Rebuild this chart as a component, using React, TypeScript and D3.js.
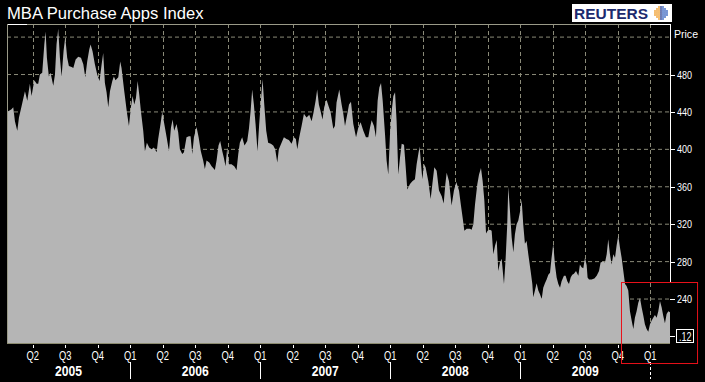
import React from 'react';
import * as d3 from 'd3';

// Decimal-year dates and MBA Purchase Apps Index values
const dates: number[] = [
  2005.052, 2005.087, 2005.100, 2005.113, 2005.131, 2005.144, 2005.164, 2005.190, 2005.208, 2005.228,
  2005.241, 2005.262, 2005.280, 2005.292, 2005.305, 2005.323, 2005.339, 2005.349, 2005.359, 2005.374,
  2005.387, 2005.408, 2005.421, 2005.433, 2005.446, 2005.459, 2005.472, 2005.487, 2005.500, 2005.515,
  2005.528, 2005.549, 2005.562, 2005.580, 2005.600, 2005.621, 2005.639, 2005.654, 2005.669, 2005.685,
  2005.695, 2005.710, 2005.728, 2005.746, 2005.764, 2005.780, 2005.792, 2005.805, 2005.818, 2005.831,
  2005.844, 2005.862, 2005.874, 2005.887, 2005.908, 2005.923, 2005.933, 2005.954, 2005.974, 2005.990,
  2006.005, 2006.018, 2006.031, 2006.044, 2006.057, 2006.069, 2006.082, 2006.100, 2006.113, 2006.128,
  2006.146, 2006.164, 2006.182, 2006.203, 2006.215, 2006.233, 2006.246, 2006.262, 2006.280, 2006.298,
  2006.313, 2006.326, 2006.338, 2006.356, 2006.369, 2006.382, 2006.400, 2006.413, 2006.433, 2006.451,
  2006.464, 2006.477, 2006.490, 2006.510, 2006.526, 2006.543, 2006.561, 2006.574, 2006.587, 2006.608,
  2006.626, 2006.651, 2006.664, 2006.679, 2006.692, 2006.708, 2006.720, 2006.733, 2006.746, 2006.759,
  2006.779, 2006.800, 2006.818, 2006.831, 2006.843, 2006.861, 2006.879, 2006.900, 2006.913, 2006.926,
  2006.938, 2006.951, 2006.964, 2006.979, 2006.992, 2007.005, 2007.018, 2007.031, 2007.046, 2007.061,
  2007.082, 2007.100, 2007.115, 2007.131, 2007.143, 2007.164, 2007.182, 2007.202, 2007.220, 2007.241,
  2007.259, 2007.274, 2007.285, 2007.300, 2007.318, 2007.336, 2007.356, 2007.377, 2007.395, 2007.408,
  2007.426, 2007.438, 2007.451, 2007.464, 2007.479, 2007.492, 2007.510, 2007.526, 2007.541, 2007.562,
  2007.574, 2007.587, 2007.608, 2007.626, 2007.639, 2007.652, 2007.670, 2007.683, 2007.698, 2007.716,
  2007.737, 2007.754, 2007.772, 2007.793, 2007.813, 2007.831, 2007.844, 2007.857, 2007.875, 2007.890,
  2007.903, 2007.916, 2007.929, 2007.942, 2007.960, 2007.972, 2007.985, 2007.998, 2008.011, 2008.024,
  2008.037, 2008.049, 2008.062, 2008.075, 2008.088, 2008.106, 2008.119, 2008.131, 2008.152, 2008.170,
  2008.190, 2008.203, 2008.216, 2008.226, 2008.237, 2008.247, 2008.260, 2008.272, 2008.293, 2008.311,
  2008.324, 2008.339, 2008.357, 2008.375, 2008.396, 2008.411, 2008.424, 2008.434, 2008.452, 2008.472,
  2008.490, 2008.508, 2008.529, 2008.544, 2008.557, 2008.570, 2008.588, 2008.613, 2008.626, 2008.639,
  2008.652, 2008.670, 2008.683, 2008.698, 2008.711, 2008.724, 2008.737, 2008.749, 2008.767, 2008.780,
  2008.793, 2008.806, 2008.819, 2008.831, 2008.844, 2008.857, 2008.875, 2008.888, 2008.900, 2008.908,
  2008.921, 2008.934, 2008.947, 2008.959, 2008.972, 2008.985, 2008.998, 2009.011, 2009.023, 2009.036,
  2009.049, 2009.062, 2009.080, 2009.093, 2009.100, 2009.113, 2009.126, 2009.139, 2009.152, 2009.165,
  2009.177, 2009.190, 2009.203, 2009.216, 2009.229, 2009.241, 2009.254, 2009.267, 2009.280, 2009.293,
  2009.306, 2009.318, 2009.336, 2009.349, 2009.362, 2009.375, 2009.388, 2009.400, 2009.413, 2009.429,
  2009.447, 2009.459, 2009.472, 2009.485, 2009.498, 2009.511, 2009.518, 2009.529, 2009.549, 2009.570,
  2009.588, 2009.606, 2009.618, 2009.639, 2009.652, 2009.665, 2009.677, 2009.690, 2009.703, 2009.716,
  2009.729, 2009.741, 2009.754, 2009.767, 2009.780, 2009.793, 2009.806, 2009.818, 2009.831, 2009.844,
  2009.857, 2009.870, 2009.882, 2009.895, 2009.908, 2009.921, 2009.934, 2009.947, 2009.959, 2009.972,
  2009.985, 2009.998, 2010.011, 2010.023, 2010.036, 2010.049, 2010.062, 2010.075, 2010.088, 2010.100,
  2010.113, 2010.126, 2010.139, 2010.152,
];

const values: number[] = [
  440, 443, 445, 430, 420, 434, 446, 462, 452, 470,
  457, 474, 470, 470, 480, 482, 512, 526, 498, 478,
  482, 468, 480, 512, 529, 498, 478, 505, 520, 498,
  489, 488, 487, 496, 499, 498, 491, 477, 494, 507,
  512, 505, 491, 480, 473, 491, 503, 471, 461, 445,
  462, 473, 478, 474, 477, 494, 487, 462, 440, 425,
  445, 457, 448, 455, 473, 459, 441, 420, 398, 407,
  402, 400, 402, 397, 411, 427, 440, 427, 413, 398,
  423, 432, 420, 427, 418, 400, 395, 397, 413, 414,
  414, 395, 413, 424, 413, 398, 388, 379, 388, 386,
  382, 378, 388, 404, 409, 398, 391, 382, 402, 384,
  384, 382, 378, 395, 407, 413, 404, 409, 422, 441,
  464, 448, 427, 398, 427, 452, 475, 448, 420, 407,
  406, 404, 400, 386, 400, 407, 413, 411, 410, 406,
  413, 411, 400, 413, 425, 438, 434, 437, 430, 438,
  452, 464, 448, 441, 432, 445, 453, 446, 440, 422,
  425, 450, 464, 448, 438, 425, 438, 448, 451, 427,
  413, 423, 429, 420, 413, 413, 423, 431, 425, 413,
  452, 466, 471, 452, 416, 388, 373, 416, 441, 457,
  461, 430, 373, 391, 406, 405, 381, 357, 363, 366,
  368, 384, 395, 403, 384, 368, 384, 381, 366, 347,
  363, 381, 377, 356, 350, 342, 363, 375, 366, 340,
  356, 365, 356, 340, 327, 313, 315, 315, 314, 320,
  341, 363, 373, 380, 366, 345, 310, 313, 314, 313,
  288, 297, 303, 270, 279, 283, 256, 284, 320, 360,
  334, 306, 290, 309, 320, 324, 333, 346, 320, 299,
  302, 288, 270, 256, 242, 249, 257, 249, 245, 240,
  252, 257, 261, 266, 268, 284, 299, 277, 263, 256,
  252, 259, 265, 265, 259, 256, 263, 266, 267, 270,
  265, 277, 274, 273, 284, 276, 263, 261, 261, 262,
  265, 270, 279, 280, 279, 288, 304, 288, 277, 288,
  284, 297, 308, 295, 284, 270, 256, 254, 249, 227,
  217, 208, 220, 227, 236, 241, 231, 222, 213, 208,
  205, 213, 217, 220, 223, 220, 227, 238, 231, 222,
  214, 224, 227, 226,
];

const priceTicks: number[] = [240, 280, 320, 360, 400, 440, 480];
const gridPrices: number[] = [240, 280, 320, 360, 400, 440, 480, 520];
const priceTitleValue = 520;
const quarterTicks: number[] = [
  2005.25, 2005.5, 2005.75, 2006.0, 2006.25, 2006.5, 2006.75, 2007.0, 2007.25, 2007.5,
  2007.75, 2008.0, 2008.25, 2008.5, 2008.75, 2009.0, 2009.25, 2009.5, 2009.75, 2010.0,
];
const quarterLabels: string[] = [
  'Q2', 'Q3', 'Q4', 'Q1', 'Q2', 'Q3', 'Q4', 'Q1', 'Q2', 'Q3',
  'Q4', 'Q1', 'Q2', 'Q3', 'Q4', 'Q1', 'Q2', 'Q3', 'Q4', 'Q1',
];
const years: number[] = [2005, 2006, 2007, 2008, 2009];
const yearBreaks: number[] = [2006, 2007, 2008, 2009, 2010];
const lastLabel = '.12';
const lastLabelValue = 200;
const zoomBoxDomain: [number, number] = [2009.775, 2010.36];
const zoomBoxRange: [number, number] = [258.2, 171.6];

const FONT = '"Liberation Sans", Arial, Helvetica, sans-serif';
const GRID = '#8a8a78';

export default function App() {
  const W = 705;
  const H = 382;
  const left = 7;
  const right = 670;
  const top = 24;
  const bottom = 343;

  const x = d3.scaleLinear().domain([dates[0], dates[dates.length - 1]]).range([left, right]);
  const y = d3.scaleLinear().domain([193, 534]).range([bottom, top]);

  const pts = dates.map((d, i) => ({ d, v: values[i] }));
  const area = d3
    .area<{ d: number; v: number }>()
    .x((p) => x(p.d))
    .y0(bottom)
    .y1((p) => y(p.v))
    .curve(d3.curveLinear);

  // globe dots
  const globe: { cx: number; cy: number; c: string }[] = [];
  const gcx = 661;
  const gcy = 13;
  for (let i = -3; i <= 3; i++) {
    for (let j = -3; j <= 3; j++) {
      const dx = i * 2;
      const dy = j * 2;
      if (dx * dx + dy * dy <= 40) {
        globe.push({ cx: gcx + dx, cy: gcy + dy, c: i < 0 ? '#f0a030' : i === 0 ? '#2a3f8f' : '#3a66c0' });
      }
    }
  }

  return (
    <svg
      width={W}
      height={H}
      style={{ position: 'absolute', left: 0, top: 0, background: '#000' }}
      fontFamily={FONT}
    >
      <rect x={0} y={0} width={W} height={H} fill="#000" />

      {/* title */}
      <text x={7} y={19} fill="#fff" fontSize={16.6}>
        MBA Purchase Apps Index
      </text>

      {/* Reuters logo */}
      <rect x={572} y={4} width={100} height={18} fill="#fff" />
      <text
        x={574}
        y={18.5}
        fill="#1c2a6e"
        fontSize={14}
        fontWeight="bold"
        textLength={74}
        lengthAdjust="spacingAndGlyphs"
      >
        REUTERS
      </text>
      {globe.map((g, i) => (
        <circle key={i} cx={g.cx} cy={g.cy} r={0.9} fill={g.c} />
      ))}

      {/* grid */}
      {gridPrices.map((p) => (
        <line key={'h' + p} x1={left} x2={right} y1={y(p)} y2={y(p)} stroke={GRID} strokeDasharray="4,3" />
      ))}
      {quarterTicks.map((q) => (
        <line
          key={'v' + q}
          x1={Math.round(x(q)) + 0.5}
          x2={Math.round(x(q)) + 0.5}
          y1={top}
          y2={bottom}
          stroke={GRID}
          strokeDasharray="4,3"
        />
      ))}

      {/* area */}
      <path d={area(pts) || ''} fill="#b5b5b5" />
      <line x1={left} x2={right} y1={bottom + 0.5} y2={bottom + 0.5} stroke="#8c8c70" />

      {/* frame */}
      <line x1={left} x2={right} y1={top + 0.5} y2={top + 0.5} stroke="#9a9a88" />
      <line x1={left} x2={left + 20} y1={top + 0.5} y2={top + 0.5} stroke="#fff" />
      <line x1={right - 20} x2={right} y1={top + 0.5} y2={top + 0.5} stroke="#fff" />
      <line x1={left + 0.5} x2={left + 0.5} y1={top} y2={bottom} stroke="#9a9a88" />
      <line x1={right + 0.5} x2={right + 0.5} y1={top} y2={282} stroke="#fff" />

      {/* right axis */}
      {priceTicks.map((p) => (
        <g key={'t' + p}>
          <line x1={right} x2={right + 5} y1={Math.round(y(p)) + 0.5} y2={Math.round(y(p)) + 0.5} stroke="#fff" />
          <text
            x={677}
            y={y(p) + 4}
            fill="#fff"
            fontSize={11.5}
            textLength={15}
            lengthAdjust="spacingAndGlyphs"
          >
            {p}
          </text>
        </g>
      ))}
      <text x={674} y={y(priceTitleValue) + 0.5} fill="#fff" fontSize={11} textLength={24} lengthAdjust="spacingAndGlyphs">
        Price
      </text>

      {/* last value box */}
      <line
        x1={right}
        x2={right + 5}
        y1={Math.round(y(lastLabelValue)) + 0.5}
        y2={Math.round(y(lastLabelValue)) + 0.5}
        stroke="#fff"
      />
      <rect
        x={676.5}
        y={Math.round(y(lastLabelValue)) - 6.5}
        width={17}
        height={13}
        fill="#000"
        stroke="#fff"
      />
      <text
        x={679}
        y={y(lastLabelValue) + 4.5}
        fill="#fff"
        fontSize={12}
        textLength={12.5}
        lengthAdjust="spacingAndGlyphs"
      >
        {lastLabel}
      </text>

      {/* x axis quarter ticks and labels */}
      {quarterTicks.map((q, i) => (
        <g key={'q' + q}>
          <line
            x1={Math.round(x(q)) + 0.5}
            x2={Math.round(x(q)) + 0.5}
            y1={345}
            y2={348}
            stroke="#fff"
          />
          <text
            x={x(q)}
            y={359.5}
            fill="#fff"
            fontSize={12}
            textAnchor="middle"
            textLength={12.5}
            lengthAdjust="spacingAndGlyphs"
          >
            {quarterLabels[i]}
          </text>
        </g>
      ))}

      {/* years */}
      {years.map((yr) => {
        const a = Math.max(x(yr), left);
        const b = Math.min(x(yr + 1), right);
        return (
          <text
            key={'y' + yr}
            x={(a + b) / 2}
            y={376}
            fill="#fff"
            fontSize={14.5}
            fontWeight="bold"
            textAnchor="middle"
            textLength={27}
            lengthAdjust="spacingAndGlyphs"
          >
            {yr}
          </text>
        );
      })}
      {yearBreaks.map((yb, i) => (
        <line
          key={'yb' + yb}
          x1={Math.round(x(yb)) + 0.5}
          x2={Math.round(x(yb)) + 0.5}
          y1={362}
          y2={379}
          stroke="#fff"
          strokeDasharray={i === yearBreaks.length - 1 ? '3,2' : undefined}
        />
      ))}

      {/* red highlight box */}
      <rect
        x={x(zoomBoxDomain[0]) + 0.5}
        y={y(zoomBoxRange[0]) + 0.5}
        width={x(zoomBoxDomain[1]) - x(zoomBoxDomain[0])}
        height={y(zoomBoxRange[1]) - y(zoomBoxRange[0])}
        fill="none"
        stroke="#e8111a"
      />
    </svg>
  );
}
